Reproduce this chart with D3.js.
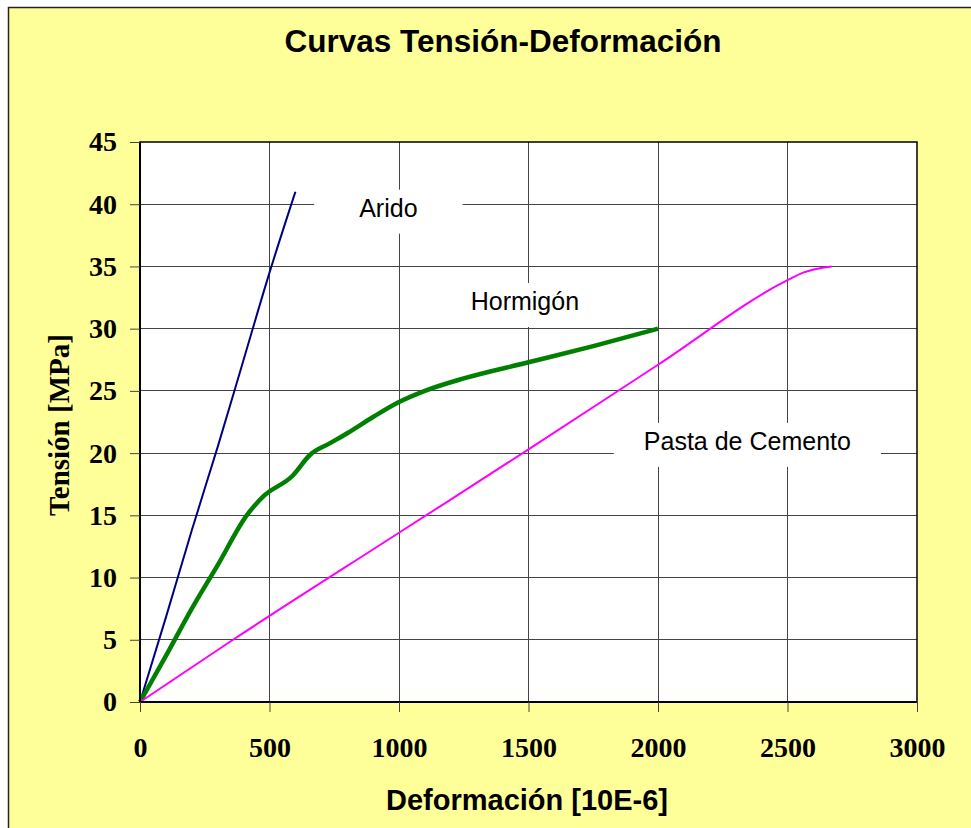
<!DOCTYPE html>
<html>
<head>
<meta charset="utf-8">
<script src="https://cdn.jsdelivr.net/npm/d3@7"></script>
<style>
  html, body { margin: 0; padding: 0; background: #fff; }
</style>
</head>
<body>
<script>
// values: strain [10E-6], stress [MPa]
const aridoStrain = [0, 100, 200, 300, 400, 500, 600];
const aridoStress = [0, 6.8, 13.8, 20.5, 27.5, 34.5, 41];

const hormigonStrain = [0, 100, 200, 300, 412, 475, 590, 656, 734, 800, 900, 1000, 1100, 1250, 1500, 1750, 2000];
const hormigonStress = [0, 3.7, 7.5, 11, 15, 16.5, 18.2, 19.85, 20.8, 21.6, 22.9, 24.1, 25, 26, 27.3, 28.6, 30];

const pastaStrain = [0, 359, 1000, 1500, 2000, 2500, 2560, 2670];
const pastaStress = [0, 5, 13.6, 20.3, 27.1, 33.9, 34.5, 35];

const xTicks = [0, 500, 1000, 1500, 2000, 2500, 3000];
const yTicks = [0, 5, 10, 15, 20, 25, 30, 35, 40, 45];

const seriesNames = ["Arido", "Hormigón", "Pasta de Cemento"];
// label anchor points in data units
const labelStrain = [959, 1486, 2345];
const labelStress = [39.0, 31.5, 20.26];

const width = 971,
  height = 828,
  plotLeft = 140,
  plotRight = 917,
  plotTop = 142,
  plotBottom = 702,
  serif = "'Liberation Serif', 'Times New Roman', serif",
  sans = "'Liberation Sans', Arial, sans-serif";

const seriesStyles = [
  { color: "#000080", width: 2, pad: 45 },
  { color: "#008000", width: 4.5, pad: 30 },
  { color: "#ff00ff", width: 2, pad: 30 }
];

const series = [
  aridoStrain.map((x, i) => [x, aridoStress[i]]),
  hormigonStrain.map((x, i) => [x, hormigonStress[i]]),
  pastaStrain.map((x, i) => [x, pastaStress[i]])
];

const x = d3.scaleLinear().domain([0, 3000]).range([plotLeft, plotRight]);
const y = d3.scaleLinear().domain([0, 45]).range([plotBottom, plotTop]);

const svg = d3
  .select("body")
  .append("svg")
  .attr("width", width)
  .attr("height", height);

// chart area
svg
  .append("rect")
  .attr("x", 8.5)
  .attr("y", 7.5)
  .attr("width", width + 20)
  .attr("height", height + 20)
  .attr("fill", "#ffff99")
  .attr("stroke", "#222")
  .attr("stroke-width", 1.5);

svg
  .append("text")
  .attr("x", 503)
  .attr("y", 52)
  .attr("text-anchor", "middle")
  .attr("font-family", sans)
  .attr("font-weight", "bold")
  .attr("font-size", 31.5)
  .text("Curvas Tensión-Deformación");

// plot area
svg
  .append("rect")
  .attr("x", plotLeft)
  .attr("y", plotTop)
  .attr("width", plotRight - plotLeft)
  .attr("height", plotBottom - plotTop)
  .attr("fill", "#fff");

const grid = svg.append("g").attr("stroke", "#444").attr("stroke-width", 1).attr("shape-rendering", "crispEdges");
grid
  .selectAll("line.h")
  .data(yTicks.slice(1, -1))
  .join("line")
  .attr("class", "h")
  .attr("x1", plotLeft)
  .attr("x2", plotRight)
  .attr("y1", (d) => y(d))
  .attr("y2", (d) => y(d));
grid
  .selectAll("line.v")
  .data(xTicks.slice(1, -1))
  .join("line")
  .attr("class", "v")
  .attr("x1", (d) => x(d))
  .attr("x2", (d) => x(d))
  .attr("y1", plotTop)
  .attr("y2", plotBottom);

const line = d3
  .line()
  .x((d) => x(d[0]))
  .y((d) => y(d[1]))
  .curve(d3.curveMonotoneX);

svg
  .append("g")
  .attr("fill", "none")
  .attr("stroke-linejoin", "round")
  .selectAll("path")
  .data(series)
  .join("path")
  .attr("stroke", (d, i) => seriesStyles[i].color)
  .attr("stroke-width", (d, i) => seriesStyles[i].width)
  .attr("d", line);

// data labels with white boxes
const labels = svg
  .append("g")
  .selectAll("g")
  .data(seriesNames)
  .join("g")
  .attr("transform", (d, i) => `translate(${x(labelStrain[i])},${y(labelStress[i])})`);

labels
  .append("text")
  .attr("text-anchor", "middle")
  .attr("font-family", sans)
  .attr("font-size", 25)
  .attr("fill", "#000")
  .text((d) => d);

labels.each(function (d, i) {
  const g = d3.select(this);
  const w = g.select("text").node().getComputedTextLength();
  const pad = seriesStyles[i].pad;
  g.insert("rect", "text")
    .attr("x", -w / 2 - pad)
    .attr("y", -27)
    .attr("width", w + pad * 2)
    .attr("height", 44)
    .attr("fill", "#fff");
});

// plot border
svg
  .append("rect")
  .attr("x", plotLeft)
  .attr("y", plotTop)
  .attr("width", plotRight - plotLeft)
  .attr("height", plotBottom - plotTop)
  .attr("fill", "none")
  .attr("stroke", "#000")
  .attr("stroke-width", 1.5);

const xAxis = svg
  .append("g")
  .attr("transform", `translate(0,${plotBottom})`)
  .call(d3.axisBottom(x).tickValues(xTicks).tickSize(10).tickPadding(25).tickFormat(d3.format("d")));

const yAxis = svg
  .append("g")
  .attr("transform", `translate(${plotLeft},0)`)
  .call(d3.axisLeft(y).tickValues(yTicks).tickSize(10).tickPadding(13));

[xAxis, yAxis].forEach((a) => {
  a.select(".domain").attr("stroke", "#000").attr("stroke-width", 2);
  a.selectAll(".tick line").attr("stroke", "#444");
  a.selectAll(".tick text")
    .attr("font-family", serif)
    .attr("font-weight", "bold")
    .attr("font-size", 28)
    .attr("fill", "#000");
});
xAxis.select(".domain").attr("d", `M${plotLeft},0H${plotRight}`);
yAxis.select(".domain").attr("d", `M0,${plotBottom}V${plotTop}`);

svg
  .append("text")
  .attr("x", 527)
  .attr("y", 810)
  .attr("text-anchor", "middle")
  .attr("font-family", sans)
  .attr("font-weight", "bold")
  .attr("font-size", 29)
  .text("Deformación [10E-6]");

svg
  .append("text")
  .attr("transform", "translate(69,425) rotate(-90)")
  .attr("text-anchor", "middle")
  .attr("font-family", serif)
  .attr("font-weight", "bold")
  .attr("font-size", 29)
  .text("Tensión [MPa]");
</script>
</body>
</html>
